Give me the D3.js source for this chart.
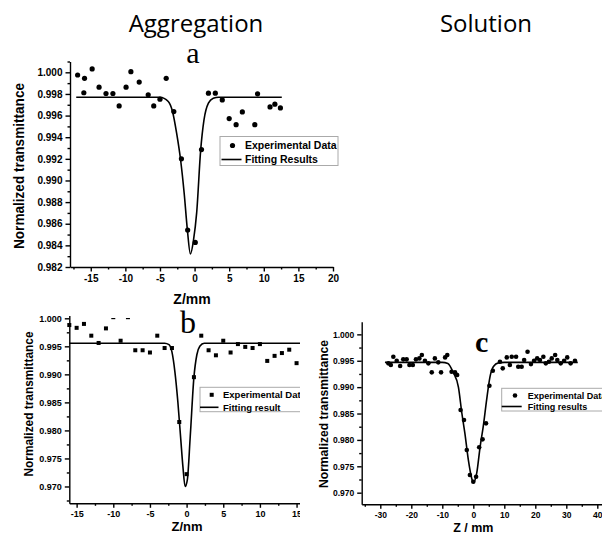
<!DOCTYPE html>
<html>
<head>
<meta charset="utf-8">
<title>Z-scan: Aggregation / Solution</title>
<script src="https://d3js.org/d3.v7.min.js"></script>
<style>
  body { margin: 0; background: #fff; }
  svg { display: block; }
  .axis path, .axis line { stroke: #000; stroke-width: 1.4px; }
  .axis text { font-family: "Liberation Sans", Arial, sans-serif; font-weight: bold; fill: #000; }
  .ttl { font-family: "Liberation Sans", Arial, sans-serif; font-weight: bold; }
  .head { font-family: "Open Sans", sans-serif; font-size: 24px; }
  .letter { font-family: "Liberation Serif", "DejaVu Serif", serif; }
</style>
</head>
<body>
<div id="chart"></div>
<script>
// panel a : aggregation, Z/mm
const aPtsX = [-16.9, -15.9, -16.0, -14.8, -13.8, -12.8, -11.8, -10.9, -9.9, -9.2, -8.0, -6.7, -5.9, -5.0, -4.1, -3.0, -1.9, -1.0, 0.1, 1.0, 2.0, 3.0, 4.0, 5.0, 6.0, 6.9, 8.7, 9.1, 10.9, 11.6, 12.4];
const aPtsY = [0.99975, 0.99944, 0.99811, 1.00031, 0.99863, 0.99804, 0.99804, 0.99689, 0.99863, 1.00006, 0.9991, 0.99792, 0.99689, 0.99752, 0.99944, 0.99637, 0.9920, 0.98541, 0.98427, 0.99286, 0.99807, 0.99807, 0.99745, 0.99572, 0.99516, 0.99634, 0.99516, 0.99801, 0.9968, 0.99705, 0.99671];
const aFitX = [-17.1, -5.0, -3.8, -3.2, -2.6, -2.0, -1.5, -1.05, -0.6, -0.15, 0.3, 0.88, 1.36, 2.0, 2.7, 3.5, 12.6];
const aFitY = [0.9977, 0.9977, 0.9973, 0.9964, 0.9944, 0.9918, 0.9888, 0.9855, 0.9832, 0.9845, 0.9870, 0.9928, 0.9956, 0.99715, 0.9976, 0.9977, 0.9977];
const aXTicks = [-15, -10, -5, 0, 5, 10, 15, 20];
const aYTicks = [0.982, 0.984, 0.986, 0.988, 0.990, 0.992, 0.994, 0.996, 0.998, 1.000];

// panel b : aggregation, Z/nm
const bPtsX = [-16, -15, -14, -13, -12, -11, -10, -9, -8, -7, -6, -5, -4, -3, -2, -1, 0, 1, 2, 3, 4, 5, 6, 7, 8, 9, 10, 11, 12, 13, 14, 15];
const bPtsY = [0.9988, 0.9983, 0.9990, 0.9969, 0.9956, 0.9982, 1.0002, 0.9960, 1.0002, 0.9943, 0.9943, 0.9939, 0.9969, 0.9947, 0.9947, 0.9815, 0.9722, 0.9895, 0.9969, 0.9943, 0.9934, 0.9960, 0.9939, 0.9954, 0.9949, 0.9947, 0.9954, 0.9924, 0.9933, 0.9938, 0.9944, 0.9920];
const bFitX = [-16, -3.0, -2.4, -2.0, -1.6, -1.2, -0.8, -0.5, -0.2, 0.1, 0.5, 1.0, 1.4, 1.8, 2.4, 16];
const bFitY = [0.99556, 0.99556, 0.9953, 0.9940, 0.9905, 0.9852, 0.9785, 0.9735, 0.9700, 0.9712, 0.9790, 0.9895, 0.9935, 0.9950, 0.99556, 0.99556];
const bXTicks = [-15, -10, -5, 0, 5, 10, 15];
const bYTicks = [0.970, 0.975, 0.980, 0.985, 0.990, 0.995, 1.000];

// panel c : solution, Z / mm
const cPtsX = [-27.4, -26.6, -25.8, -24.7, -23.6, -22.6, -21.5, -20.6, -19.5, -18.5, -17.4, -16.6, -15.6, -14.5, -13.4, -12.4, -11.3, -10.4, -9.1, -8.4, -7.0, -5.9, -5.2,
  -4.1, -3.0, -2.1, -1.1, 0.0, 0.9, 1.9, 3.0, 4.1, 5.2, 6.3,
  8.6, 9.5, 10.8, 11.8, 12.4, 13.8, 14.5, 15.6, 16.4, 17.5, 18.6, 19.6, 20.6, 21.5, 22.6, 23.4, 24.4, 25.3, 26.4, 27.1, 28.2, 29.3, 30.3, 31.4, 32.8];
const cPtsY = [0.99451, 0.99419, 0.99576, 0.995, 0.9940, 0.99527, 0.99527, 0.99419, 0.99419, 0.99527, 0.99545, 0.99608, 0.995, 0.99451, 0.9928, 0.99545, 0.9947, 0.9928, 0.99564, 0.99608, 0.99292, 0.9928, 0.99229,
  0.98566, 0.98377, 0.97809, 0.97335, 0.97208, 0.97303, 0.9786, 0.98011, 0.98314, 0.99027, 0.9931,
  0.99481, 0.99356, 0.99564, 0.99419, 0.99576, 0.99576, 0.99386, 0.99386, 0.99513, 0.9967, 0.99437, 0.995, 0.99545, 0.99513, 0.99576, 0.99451, 0.99481, 0.99545, 0.99608, 0.99513, 0.99451, 0.995, 0.99564, 0.99451, 0.995];
const cFitX = [-28.5, -10, -8.2, -6.5, -4.8, -3.7, -2.7, -1.6, -0.5, 0, 1.1, 2.2, 3.2, 4.3, 5.4, 6.5, 8.1, 10, 33.7];
const cFitY = [0.9947, 0.9947, 0.9945, 0.9928, 0.9900, 0.9851, 0.9812, 0.9762, 0.9727, 0.9719, 0.9737, 0.9787, 0.9825, 0.9876, 0.9920, 0.9939, 0.9946, 0.9947, 0.9947];
const cXTicks = [-30, -20, -10, 0, 10, 20, 30, 40];
const cYTicks = [0.970, 0.975, 0.980, 0.985, 0.990, 0.995, 1.000];

const width = 602, height = 539;
const svg = d3.select("#chart").append("svg")
  .attr("width", width).attr("height", height);
svg.append("rect").attr("width", width).attr("height", height).attr("fill", "#fff");

const defs = svg.append("defs");
defs.append("clipPath").attr("id", "clipB").append("rect")
  .attr("x", 0).attr("y", 0).attr("width", 300).attr("height", height);
defs.append("clipPath").attr("id", "clipBData").append("rect")
  .attr("x", 0).attr("y", 318).attr("width", 300).attr("height", height - 318);

// minor ticks half way between the labelled ones
function minors(ticks, lo, hi) {
  const step = ticks[1] - ticks[0];
  const out = [];
  for (let v = ticks[0] - step / 2; v <= hi + 1e-9; v += step) if (v >= lo - 1e-9) out.push(v);
  return out;
}

function panel(o) {
  const g = svg.append("g");
  if (o.clip) g.attr("clip-path", "url(#" + o.clip + ")");
  const x = d3.scaleLinear(o.xDomain, [o.left, o.right]);
  const y = d3.scaleLinear(o.yDomain, [o.bottom, o.top]);

  // x axis
  g.append("g").attr("class", "axis").attr("transform", `translate(0,${o.bottom})`)
    .call(d3.axisBottom(x).tickValues(minors(o.xTicks, o.xDomain[0], o.xDomain[1])).tickSize(2.5).tickFormat("").tickSizeOuter(0))
    .call(s => s.select(".domain").remove());
  g.append("g").attr("class", "axis").attr("transform", `translate(0,${o.bottom})`)
    .call(d3.axisBottom(x).tickValues(o.xTicks).tickSize(4.5).tickPadding(3).tickSizeOuter(0).tickFormat(d => String(d)))
    .call(s => s.selectAll("text").style("font-size", o.tickFont + "px"));

  // y axis
  g.append("g").attr("class", "axis").attr("transform", `translate(${o.left},0)`)
    .call(d3.axisLeft(y).tickValues(minors(o.yTicks, o.yDomain[0], o.yDomain[1])).tickSize(2.5).tickFormat("").tickSizeOuter(0))
    .call(s => s.select(".domain").remove());
  g.append("g").attr("class", "axis").attr("transform", `translate(${o.left},0)`)
    .call(d3.axisLeft(y).tickValues(o.yTicks).tickSize(4.5).tickPadding(3).tickSizeOuter(0).tickFormat(d => d.toFixed(3)))
    .call(s => s.selectAll("text").style("font-size", o.tickFont + "px"));

  // axis titles
  g.append("text").attr("class", "ttl")
    .attr("transform", `translate(${o.yTitleX},${o.yTitleY}) rotate(-90)`)
    .attr("text-anchor", "middle").attr("dy", "0.35em")
    .attr("font-size", o.yTitleFont)
    .attr("textLength", o.yTitleLen).attr("lengthAdjust", "spacingAndGlyphs")
    .text("Normalized transmittance");
  g.append("text").attr("class", "ttl")
    .attr("x", o.xTitlePos[0]).attr("y", o.xTitlePos[1])
    .attr("text-anchor", "middle").attr("font-size", o.xTitleFont)
    .text(o.xTitle);

  // data
  const dg = g.append("g");
  if (o.dataClip) dg.attr("clip-path", "url(#" + o.dataClip + ")");
  const fit = d3.range(o.fitX.length).map(i => [o.fitX[i], o.fitY[i]]);
  dg.append("path").datum(fit)
    .attr("fill", "none").attr("stroke", "#000").attr("stroke-width", 1.6)
    .attr("d", d3.line().x(d => x(d[0])).y(d => y(d[1])).curve(d3.curveMonotoneX));
  const pts = d3.range(o.ptsX.length).map(i => [o.ptsX[i], o.ptsY[i]]);
  if (o.marker === "square") {
    dg.selectAll("rect.pt").data(pts).join("rect").attr("class", "pt")
      .attr("x", d => x(d[0]) - o.msize / 2).attr("y", d => y(d[1]) - o.msize / 2)
      .attr("width", o.msize).attr("height", o.msize).attr("fill", "#000");
  } else {
    dg.selectAll("circle.pt").data(pts).join("circle").attr("class", "pt")
      .attr("cx", d => x(d[0])).attr("cy", d => y(d[1])).attr("r", o.msize).attr("fill", "#000");
  }

  // legend
  const L = o.legend;
  const lg = g.append("g");
  lg.append("rect").attr("x", L.x).attr("y", L.y).attr("width", L.w).attr("height", L.h)
    .attr("fill", "#fff").attr("stroke", "#aaa").attr("stroke-width", 1);
  if (o.marker === "square") {
    lg.append("rect").attr("x", L.symX - o.msize / 2).attr("y", L.row1 - o.msize / 2)
      .attr("width", o.msize).attr("height", o.msize).attr("fill", "#000");
  } else {
    lg.append("circle").attr("cx", L.symX).attr("cy", L.row1).attr("r", o.msize).attr("fill", "#000");
  }
  lg.append("line").attr("x1", L.lineX[0]).attr("x2", L.lineX[1]).attr("y1", L.row2).attr("y2", L.row2)
    .attr("stroke", "#000").attr("stroke-width", 1.6);
  lg.selectAll("text").data(L.labels).join("text").attr("class", "ttl")
    .attr("x", L.textX).attr("y", (d, i) => (i ? L.row2 : L.row1))
    .attr("dy", "0.35em").attr("font-size", L.font).text(d => d);

  // panel letter
  g.append("text").attr("class", "letter")
    .attr("x", o.letter.x).attr("y", o.letter.y).attr("text-anchor", "middle")
    .attr("font-size", o.letter.size).attr("font-weight", o.letter.weight || "normal")
    .text(o.letter.t);
}

svg.append("text").attr("class", "head").attr("x", 196).attr("y", 32).attr("text-anchor", "middle").text("Aggregation");
svg.append("text").attr("class", "head").attr("x", 486).attr("y", 32).attr("text-anchor", "middle").text("Solution");

panel({
  left: 70, right: 333, top: 61.5, bottom: 267,
  xDomain: [-18, 20], yDomain: [0.982, 1.001],
  xTicks: aXTicks, yTicks: aYTicks, tickFont: 10,
  ptsX: aPtsX, ptsY: aPtsY, fitX: aFitX, fitY: aFitY,
  marker: "circle", msize: 2.6,
  yTitleX: 19, yTitleY: 166, yTitleFont: 14, yTitleLen: 166,
  xTitle: "Z/mm", xTitlePos: [192, 304], xTitleFont: 14,
  legend: { x: 220, y: 136.5, w: 118, h: 29, symX: 232.5, row1: 145.5, row2: 159.5,
            lineX: [221.5, 241.5], textX: 245, font: 10.5,
            labels: ["Experimental Data", "Fitting Results"] },
  letter: { t: "a", x: 193, y: 63, size: 30 }
});

panel({
  clip: "clipB", dataClip: "clipBData",
  left: 69.3, right: 303.9, top: 315.5, bottom: 503.3,
  xDomain: [-16, 16], yDomain: [0.967, 1.0005],
  xTicks: bXTicks, yTicks: bYTicks, tickFont: 9,
  ptsX: bPtsX, ptsY: bPtsY, fitX: bFitX, fitY: bFitY,
  marker: "square", msize: 4,
  yTitleX: 28.5, yTitleY: 404, yTitleFont: 13, yTitleLen: 145,
  xTitle: "Z/nm", xTitlePos: [187, 531], xTitleFont: 13,
  legend: { x: 200, y: 387.3, w: 110, h: 24.4, symX: 211.7, row1: 394.8, row2: 407.3,
            lineX: [200, 218.5], textX: 223, font: 9.5,
            labels: ["Experimental Data", "Fitting result"] },
  letter: { t: "b", x: 188, y: 332.7, size: 32 }
});

panel({
  left: 361.7, right: 603.5, top: 321.7, bottom: 504.3,
  xDomain: [-36, 42], yDomain: [0.9678, 1.0024],
  xTicks: cXTicks, yTicks: cYTicks, tickFont: 8.5,
  ptsX: cPtsX, ptsY: cPtsY, fitX: cFitX, fitY: cFitY,
  marker: "circle", msize: 2.3,
  yTitleX: 323.5, yTitleY: 414, yTitleFont: 13, yTitleLen: 148,
  xTitle: "Z / mm", xTitlePos: [473.3, 531.5], xTitleFont: 12.5,
  legend: { x: 501.7, y: 388.3, w: 110, h: 22.7, symX: 515, row1: 395.5, row2: 406.5,
            lineX: [501.7, 521.7], textX: 527.7, font: 9,
            labels: ["Experimental Data", "Fitting results"] },
  letter: { t: "c", x: 481.7, y: 352.3, size: 30, weight: "bold" }
});
</script>
</body>
</html>
